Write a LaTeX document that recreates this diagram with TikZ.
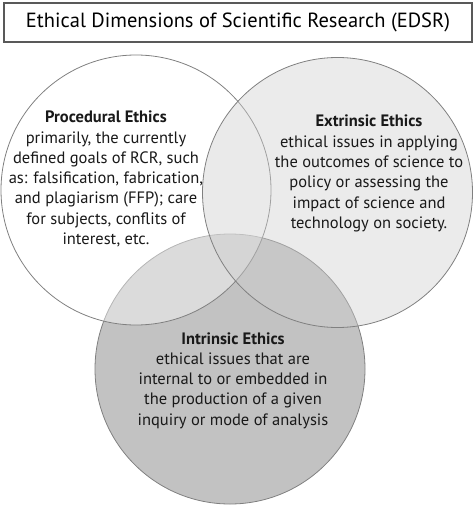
\documentclass[tikz,border=0pt]{standalone}
\usepackage{fontspec}
\setmainfont{PT Sans}
\usetikzlibrary{
    positioning, % relative placement
    shapes.geometric
}

\begin{document}
\begin{tikzpicture}[x=1pt,y=-1pt] % one unit = one pixel of the page

    % --- Styles ---
    \tikzset{
        % the three circles of the diagram
        venn_circle/.style={
            draw=black!50,
            line width=0.8pt,
            circle,
            minimum size=270pt,
            inner sep=0pt
        },
        % the text inside each circle
        venn_text/.style={
            align=center,
            text=black!90,
            font=\fontsize{16.5}{20.3}\selectfont
        },
        % the framed title
        title_box/.style={
            draw=black!65,
            line width=1.5pt,
            minimum width=468pt,
            minimum height=39pt,
            font=\fontsize{20.5}{24}\selectfont
        }
    }

    \useasboundingbox (0,0) rectangle (474,505);

    % --- Title ---
    \node[title_box] (title) at (238,22.5) {Ethical Dimensions of Scientific Research (EDSR)};

    % --- Circles (bottom one first, the others see-through) ---
    \node[venn_circle, fill=black!24] (intrinsic) at (230,369) {};
    \node[venn_circle, fill=white, fill opacity=0.42] (procedural) at (136,190) {};
    \node[venn_circle, fill=black!19, fill opacity=0.42] (extrinsic) at (337.5,192.5) {};

    % --- Texts ---
    \node[venn_text] (procedural_text) at (106,179) {
        \textbf{Procedural Ethics}\\
        primarily, the currently\\
        defined goals of RCR, such\\
        as: falsification, fabrication,\\
        and plagiarism (FFP); care\\
        for subjects, conflits of\\
        interest, etc.
    };
    \node[venn_text] (extrinsic_text) at (369,173.5) {
        \textbf{Extrinsic Ethics}\\
        ethical issues in applying\\
        the outcomes of science to\\
        policy or assessing the\\
        impact of science and\\
        technology on society.
    };
    \node[venn_text] (intrinsic_text) at (233,380.5) {
        \textbf{Intrinsic Ethics}\\
        ethical issues that are\\
        internal to or embedded in\\
        the production of a given\\
        inquiry or mode of analysis
    };

\end{tikzpicture}
\end{document}
